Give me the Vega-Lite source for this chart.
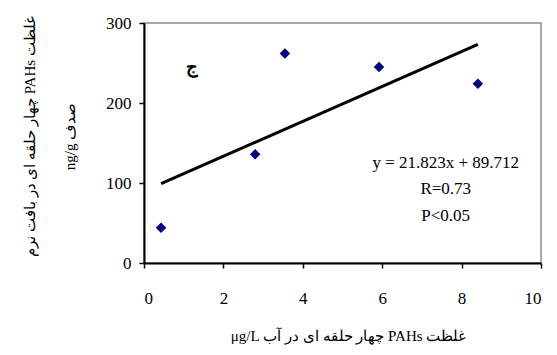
{
  "$schema": "https://vega.github.io/schema/vega-lite/v6.json",
  "width": 397,
  "height": 240,
  "autosize": "none",
  "padding": {"left": 144, "top": 23, "right": 16, "bottom": 92},
  "background": "white",
  "config": {
    "view": {"stroke": "#8c8c8c", "strokeWidth": 1.5},
    "axis": {
      "grid": false,
      "domainColor": "black",
      "domainWidth": 2,
      "tickColor": "black",
      "tickWidth": 1.5,
      "tickSize": 5,
      "labelColor": "black",
      "titleFontWeight": "normal",
      "titleColor": "black"
    }
  },
  "datasets": {
    "points": [
      {"water": 0.43, "tissue": 44},
      {"water": 2.8, "tissue": 136},
      {"water": 3.55, "tissue": 262},
      {"water": 5.92, "tissue": 245},
      {"water": 8.41, "tissue": 224}
    ],
    "trend": [
      {"water": 0.43, "tissue": 99.1},
      {"water": 8.41, "tissue": 273.2}
    ],
    "notes": [
      {"water": 7.6, "tissue": 125, "label": "y = 21.823x + 89.712"},
      {"water": 7.6, "tissue": 92, "label": "R=0.73"},
      {"water": 7.6, "tissue": 59, "label": "P<0.05"}
    ],
    "panel": [
      {"water": 1.21, "tissue": 244, "label": "ج"}
    ]
  },
  "layer": [
    {
      "data": {"name": "points"},
      "mark": {"type": "point", "shape": "diamond", "filled": true, "color": "#000080", "size": 110, "opacity": 1},
      "encoding": {
        "x": {
          "field": "water", "type": "quantitative",
          "scale": {"domain": [0, 10], "nice": false},
          "axis": {
            "values": [0, 2, 4, 6, 8, 10],
            "labelFont": "serif",
            "labelFontSize": 17,
            "labelPadding": 22,
            "title": "\u202Bغلظت PAHs چهار حلقه ای در آب μg/L\u202C",
            "titleFont": "Liberation Serif",
            "titleFontSize": 15,
            "titleX": 204,
            "titleY": 72,
            "titleBaseline": "middle",
            "titleAnchor": "middle"
          }
        },
        "y": {
          "field": "tissue", "type": "quantitative",
          "scale": {"domain": [0, 300], "nice": false},
          "axis": {
            "values": [0, 100, 200, 300],
            "labelFont": "serif",
            "labelFontSize": 17,
            "labelPadding": 8,
            "title": ["\u202Bغلظت PAHs چهار حلقه ای در بافت نرم\u202C", "\u202Bصدف ng/g\u202C"],
            "titleFont": "Liberation Serif",
            "titleFontSize": 15,
            "titleAngle": -90,
            "titleX": -122,
            "titleY": 113,
            "titleAlign": "center",
            "titleBaseline": "top",
            "titleLineHeight": 40
          }
        }
      }
    },
    {
      "data": {"name": "trend"},
      "mark": {"type": "line", "color": "black", "strokeWidth": 3},
      "encoding": {
        "x": {"field": "water", "type": "quantitative"},
        "y": {"field": "tissue", "type": "quantitative"}
      }
    },
    {
      "data": {"name": "notes"},
      "mark": {"type": "text", "font": "Liberation Serif", "fontSize": 17, "color": "black", "align": "center", "baseline": "middle"},
      "encoding": {
        "x": {"field": "water", "type": "quantitative"},
        "y": {"field": "tissue", "type": "quantitative"},
        "text": {"field": "label"}
      }
    },
    {
      "data": {"name": "panel"},
      "mark": {"type": "text", "font": "Liberation Serif", "fontSize": 18, "fontWeight": "bold", "color": "black", "align": "center", "baseline": "middle"},
      "encoding": {
        "x": {"field": "water", "type": "quantitative"},
        "y": {"field": "tissue", "type": "quantitative"},
        "text": {"field": "label"}
      }
    }
  ]
}
